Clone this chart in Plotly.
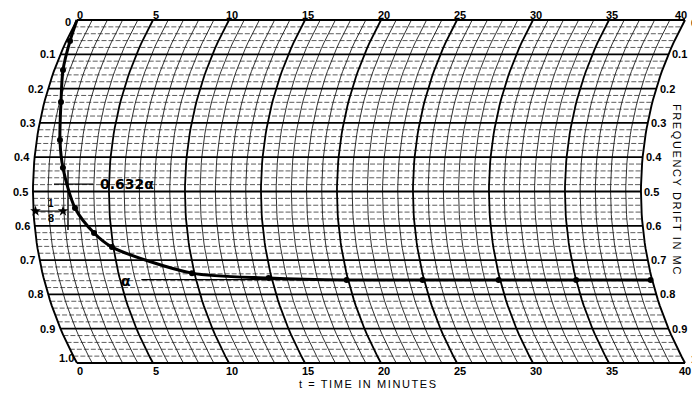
import numpy as np
import plotly.graph_objects as go

# ---------------- data ----------------
T_MIN = [0.0, 0.24, 0.57, 1.09, 1.53, 1.92, 2.74, 3.86, 4.91, 9.84, 14.8, 19.9, 24.9, 29.9, 35.0, 39.9]
F_MC = [0.0, 0.061, 0.146, 0.239, 0.350, 0.431, 0.548, 0.621, 0.662, 0.738, 0.752, 0.758, 0.758, 0.758, 0.758, 0.758]
ALPHA = 0.757          # asymptotic drift (alpha)
TAU = 2.3              # time constant 1/a, minutes
TIME_TICKS = [0, 5, 10, 15, 20, 25, 30, 35, 40]
TIME_LABELS = ["0", "5", "10", "15", "20", "25", "30", "35", "40"]
FREQ_TICKS = [0.0, 0.1, 0.2, 0.3, 0.4, 0.5, 0.6, 0.7, 0.8, 0.9, 1.0]
FREQ_LABELS = ["0", "0.1", "0.2", "0.3", "0.4", "0.5", "0.6", "0.7", "0.8", "0.9", "1.0"]

# ---------------- chart-paper geometry (curvilinear recorder) ----------------
PX_MIN = 15.2     # pixels per minute
PX_F = 343.0      # pixels per 1.0 MC
R_PX = 356.0      # radius of the pen arc in pixels
T_END = 40
W, H = 692, 396
X0_PX, Y0_PX = 77.0, 20.0


def bend(f):
    f = np.asarray(f, dtype=float)
    dy = (f - 0.5) * PX_F
    return (np.sqrt(R_PX ** 2 - dy ** 2) - np.sqrt(R_PX ** 2 - (0.5 * PX_F) ** 2)) / PX_MIN


def X(t, f):
    return np.asarray(t, dtype=float) - bend(f)


def px(dx):
    return dx / PX_MIN


def py(dy):
    return dy / PX_F


fig = go.Figure()

def add_lines(segments, width, color="black", dash="solid"):
    xs, ys = [], []
    for sx, sy in segments:
        xs += list(sx) + [None]
        ys += list(sy) + [None]
    fig.add_trace(go.Scatter(x=xs, y=ys, mode="lines", hoverinfo="skip",
                             line=dict(color=color, width=width, dash=dash)))

fs = np.linspace(0, 1, 61)
# minor horizontal lines every 0.02
minor_f = [k / 50 for k in range(1, 50) if k % 5 != 0]
add_lines([([X(0, f), X(T_END, f)], [f, f]) for f in minor_f], 0.8, "#333", "5px,2px")
# minor arcs every minute
add_lines([(X(t, fs), fs) for t in range(1, T_END) if t % 5 != 0], 0.9, "#1a1a1a")
# major arcs every 5 minutes
add_lines([(X(t, fs), fs) for t in TIME_TICKS if 0 < t < T_END], 1.8)
add_lines([(X(t, fs), fs) for t in (0, T_END)], 1.9)
# major horizontal lines
add_lines([([X(0, f), X(T_END, f)], [f, f]) for f in FREQ_TICKS[1:-1]], 1.8)
add_lines([([X(0, f), X(T_END, f)], [f, f]) for f in (FREQ_TICKS[0], FREQ_TICKS[-1])], 2.2)

# alpha reference line
add_lines([([X(6.4, ALPHA), X(T_END - 0.1, ALPHA)], [ALPHA, ALPHA])], 1.3)

# 0.632 alpha construction
f632 = 0.632 * ALPHA
x_cross = float(X(TAU, f632))
add_lines([([x_cross - px(14), x_cross + px(25)], [f632, f632])], 1.4)
add_lines([([x_cross, x_cross], [f632 - py(14), f632 + py(46)])], 1.4)
f_dim = f632 + py(27)
x_dim0 = float(X(0, f_dim)) + px(2)
add_lines([([x_dim0, x_cross - px(4)], [f_dim, f_dim])], 1.2)
fig.add_trace(go.Scatter(x=[x_dim0, x_cross - px(5)], y=[f_dim, f_dim], mode="markers",
                         marker=dict(symbol="star", size=8, color="black"), hoverinfo="skip"))

# recorded drift curve
fig.add_trace(go.Scatter(x=X(T_MIN, F_MC), y=F_MC, mode="lines",
                         line=dict(color="black", width=3, shape="spline", smoothing=0.8),
                         hoverinfo="skip"))
fig.add_trace(go.Scatter(x=X(T_MIN[1:], F_MC[1:]), y=F_MC[1:], mode="markers",
                         marker=dict(size=6, color="black"), hoverinfo="skip"))

ann = []
lab_font = dict(family="Liberation Sans", size=11, color="black", weight="bold")
for t, lab in zip(TIME_TICKS, TIME_LABELS):
    top_dx = 3 if t < T_END else -4
    bot_dx = 3 if t < T_END else 0
    ann.append(dict(x=t + px(top_dx), y=-py(5), text=lab, xanchor="center", yanchor="middle", font=lab_font))
    ann.append(dict(x=t + px(bot_dx), y=1 + py(8), text=lab, xanchor="center", yanchor="middle", font=lab_font))
for f, lab in zip(FREQ_TICKS, FREQ_LABELS):
    if f == 0:
        lx, ly = -px(4), py(2)
        rx, ry = X(T_END, f) + px(4), py(3)
    elif f == 1.0:
        lx, ly = -px(1), 1 - py(5)
        rx, ry = X(T_END, f) + px(4), 1 - py(4)
    else:
        lx, ly = float(X(0, f)) - px(3), f
        rx, ry = float(X(T_END, f)) + px(1.5), f
    ann.append(dict(x=lx, y=ly, text=lab, xanchor="right", yanchor="middle", font=lab_font))
    ann.append(dict(x=rx, y=ry, text=lab, xanchor="left", yanchor="middle", font=lab_font))

big_font = dict(family="DejaVu Sans", size=14, color="black", weight="bold")
ann.append(dict(x=x_cross + px(30), y=f632, text="0.632α", xanchor="left", yanchor="middle", font=big_font))
ann.append(dict(x=X(6.4, ALPHA) - px(15), y=ALPHA + py(1), text="α", xanchor="center", yanchor="middle",
                font=big_font))
frac_x = (x_dim0 + x_cross) / 2 - px(1)
ann.append(dict(x=frac_x, y=f_dim - py(8), text="1", xanchor="center", yanchor="middle",
                font=dict(family="Liberation Sans", size=10, color="black", weight="bold")))
ann.append(dict(x=frac_x, y=f_dim + py(7), text="8", xanchor="center", yanchor="middle",
                font=dict(family="Liberation Sans", size=11, color="black", weight="bold")))

title_font = dict(family="Liberation Sans", size=11, color="black")
ann.append(dict(x=px(368 - X0_PX), y=1 + py(21), xanchor="center", yanchor="middle",
                text='<span style="letter-spacing:1.6px">t = TIME IN MINUTES</span>', font=title_font))
ann.append(dict(x=px(677 - X0_PX), y=py(190 - Y0_PX), xanchor="center", yanchor="middle", textangle=90,
                text='<span style="letter-spacing:1.6px">FREQUENCY DRIFT IN MC</span>', font=title_font))

for a in ann:
    a.update(xref="x", yref="y", showarrow=False)

fig.update_layout(
    width=W, height=H, margin=dict(l=0, r=0, t=0, b=0),
    paper_bgcolor="white", plot_bgcolor="white", showlegend=False,
    annotations=ann,
    xaxis=dict(range=[-X0_PX / PX_MIN, (W - X0_PX) / PX_MIN], visible=False, fixedrange=True),
    yaxis=dict(range=[(H - Y0_PX) / PX_F, -Y0_PX / PX_F], visible=False, fixedrange=True),
)
fig.write_html("out.html")
